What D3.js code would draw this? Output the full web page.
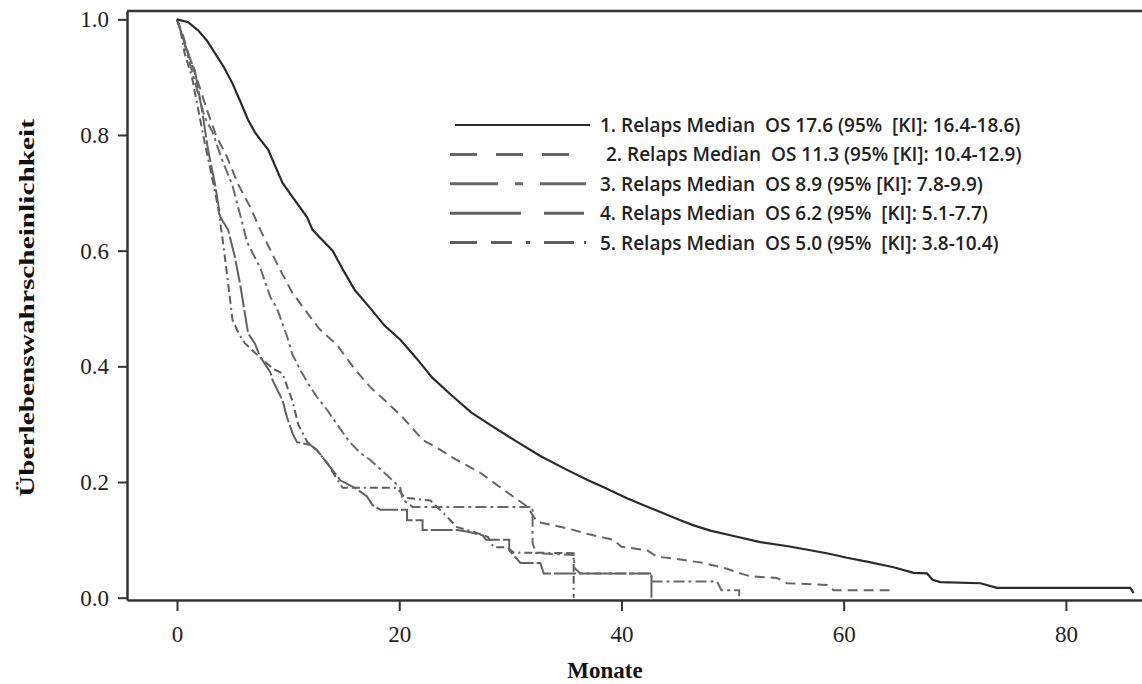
<!DOCTYPE html>
<html>
<head>
<meta charset="utf-8">
<script src="https://d3js.org/d3.v7.min.js"></script>
<style>
  body { margin: 0; background: #fff; }
  .axis path, .axis line { stroke: #333; }
  .axis path { stroke-width: 2.5px; }
  .axis line { stroke-width: 2px; }
  .axis text { font-family: "Liberation Serif", "Times New Roman", serif; font-size: 23px; fill: #222; }
  .legend text { font-family: "Open Sans", sans-serif; font-weight: 600; font-size: 19px; fill: #222; white-space: pre; }
  .title { font-family: "Liberation Serif", "Times New Roman", serif; font-weight: bold; fill: #111; }
  .curve { fill: none; stroke-linejoin: miter; }
</style>
</head>
<body>
<script>
  // Achsen
  var xTicks = [0, 20, 40, 60, 80];
  var yTicks = [0, 0.2, 0.4, 0.6, 0.8, 1.0];

  // Kaplan-Meier Kurven: [Monate, Überlebenswahrscheinlichkeit]
  var relaps1 = [[0,1],[1,0.995],[1.9,0.981],[2.7,0.963],[3.4,0.942],[4.2,0.918],[4.95,0.891],[5.7,0.858],
    [6.4,0.826],[7,0.805],[7.5,0.792],[8.2,0.775],[8.8,0.748],[9.5,0.717],[10.5,0.69],[11.7,0.658],[12.2,0.636],
    [13.1,0.618],[14,0.6],[15,0.565],[16,0.532],[17.2,0.505],[18.7,0.47],[20.1,0.446],[21.5,0.415],[23,0.38],
    [24.7,0.35],[26.5,0.32],[28.5,0.295],[30.4,0.272],[32.7,0.245],[35.1,0.221],[37,0.203],[38.5,0.19],
    [40.5,0.172],[42,0.16],[43.5,0.148],[45.3,0.134],[46.5,0.125],[48,0.116],[50,0.107],[52.5,0.096],
    [55,0.089],[57,0.082],[58.7,0.076],[60.3,0.069],[62.2,0.062],[64.4,0.053],[66.3,0.043],[67.5,0.042],
    [68,0.031],[68.7,0.027],[72.3,0.025],[73.8,0.017],[85.8,0.017],[86.1,0.008]];

  var relaps2 = [[0,1],[0.5,0.975],[1.2,0.93],[2,0.885],[2.7,0.843],[3.5,0.8],[4.5,0.762],[5.5,0.715],
    [6.6,0.675],[7.5,0.636],[8.3,0.605],[9.3,0.566],[10.3,0.53],[11.3,0.503],[12.8,0.465],[14.4,0.437],
    [16,0.395],[17.4,0.364],[18.5,0.345],[20.3,0.312],[22.1,0.273],[23.5,0.258],[25,0.24],[27.3,0.216],
    [29.5,0.185],[31.5,0.158],[32.4,0.131],[35.1,0.12],[37,0.11],[39.3,0.1],[40,0.088],[42.3,0.082],
    [43.2,0.071],[45.3,0.066],[47.4,0.06],[49.5,0.05],[50.7,0.042],[51.6,0.037],[54,0.034],[54.9,0.025],
    [58.5,0.022],[59.1,0.013],[64.2,0.013]];

  var relaps3 = [[0,1],[0.5,0.97],[1.5,0.9],[2.5,0.83],[3.2,0.805],[4,0.76],[5,0.712],[5.85,0.65],[6.3,0.615],
    [7.5,0.57],[8.4,0.52],[9,0.5],[9.9,0.452],[10.4,0.42],[11.2,0.39],[12,0.364],[12.6,0.347],[13.5,0.325],
    [14.4,0.3],[15.5,0.27],[16.5,0.25],[17.4,0.238],[19,0.21],[20.1,0.19],[20.3,0.17],[21.2,0.157],[32,0.157],
    [32,0.095],[32.3,0.077],[35.7,0.074],[35.8,0.051],[36.3,0.042],[42.7,0.042],[42.7,0.028],[48.6,0.028],
    [49,0.013],[50.6,0.013],[50.6,0]];

  var relaps4 = [[0,1],[0.5,0.97],[1,0.94],[1.6,0.912],[2.25,0.843],[2.8,0.774],[3.4,0.717],[3.9,0.658],
    [4.6,0.636],[5.2,0.59],[5.7,0.54],[6.4,0.457],[7,0.44],[7.5,0.416],[8.4,0.39],[8.6,0.376],[9.5,0.341],
    [9.9,0.312],[10.4,0.284],[10.8,0.269],[12,0.264],[12.6,0.255],[13.5,0.233],[14.7,0.203],[16,0.19],
    [17.1,0.175],[17.6,0.16],[18.3,0.152],[20.7,0.152],[20.7,0.134],[22.1,0.134],[22.1,0.117],[25.2,0.117],
    [26.2,0.114],[27.5,0.108],[27.8,0.1],[29.9,0.1],[29.9,0.082],[30.9,0.06],[32.7,0.06],[33,0.042],
    [42.7,0.042],[42.7,0]];

  var relaps5 = [[0,1],[0.3,0.982],[0.7,0.94],[1.35,0.9],[1.9,0.845],[2.5,0.786],[3.15,0.727],[3.7,0.675],
    [4.1,0.62],[4.5,0.56],[5,0.48],[5.6,0.455],[6.1,0.44],[7.5,0.415],[8.7,0.395],[9.5,0.388],[10,0.36],
    [10.4,0.34],[10.9,0.3],[11.7,0.27],[12.6,0.255],[13.5,0.233],[14.4,0.205],[14.9,0.19],[19.8,0.19],
    [20.5,0.173],[22.8,0.168],[23.4,0.157],[24.6,0.134],[25.2,0.122],[26.5,0.115],[28,0.105],[28.5,0.087],
    [29.7,0.087],[30.3,0.078],[35.7,0.077],[35.7,0]];

  var legendLabels = [
    "1. Relaps Median  OS 17.6 (95%  [KI]: 16.4-18.6)",
    "2. Relaps Median  OS 11.3 (95% [KI]: 10.4-12.9)",
    "3. Relaps Median  OS 8.9 (95% [KI]: 7.8-9.9)",
    "4. Relaps Median  OS 6.2 (95%  [KI]: 5.1-7.7)",
    "5. Relaps Median  OS 5.0 (95%  [KI]: 3.8-10.4)"
  ];

  var series = [relaps1, relaps2, relaps3, relaps4, relaps5];
  var colors = ["#2b2b2b", "#666", "#6a6a6a", "#626262", "#5e5e5e"];
  var dashes = [null, "10,6", "11,4,3,4", "22,3", "8,4,8,4,2,4"];
  var legendDashes = [null, "27,19", "48,17,8,17", "71,23,40,23", "27,14,21,14,4,14,30,10,4,10"];

  var W = 1142, H = 684;
  var svg = d3.select("body").append("svg")
    .attr("width", W)
    .attr("height", H);

  var x = d3.scaleLinear().domain([-4.5, 86.85]).range([127, 1142]);
  var y = d3.scaleLinear().domain([-0.004, 1.0144]).range([600, 11]);

  // Rahmen oben
  svg.append("line")
    .attr("x1", 127).attr("x2", W)
    .attr("y1", 11).attr("y2", 11)
    .attr("stroke", "#333").attr("stroke-width", 2.5);

  svg.append("g")
    .attr("class", "axis")
    .attr("transform", "translate(0,600)")
    .call(d3.axisBottom(x).tickValues(xTicks).tickSize(11).tickSizeOuter(0).tickPadding(15));

  svg.append("g")
    .attr("class", "axis")
    .attr("transform", "translate(127,0)")
    .call(d3.axisLeft(y).tickValues(yTicks).tickFormat(d3.format(".1f")).tickSize(9).tickSizeOuter(0).tickPadding(9));

  var line = d3.line()
    .x(function(d) { return x(d[0]); })
    .y(function(d) { return y(d[1]); });

  // Kurven (letzte zuerst, damit die durchgezogene oben liegt)
  for (var i = series.length - 1; i >= 0; i--) {
    svg.append("path")
      .datum(series[i])
      .attr("class", "curve")
      .attr("d", line)
      .attr("stroke", colors[i])
      .attr("stroke-width", i == 0 ? 2.2 : 2)
      .attr("stroke-dasharray", dashes[i]);
  }

  // Legende
  var legend = svg.append("g").attr("class", "legend");
  for (var i = 0; i < legendLabels.length; i++) {
    var ly = 125 + i * 29.4;
    legend.append("line")
      .attr("x1", i == 0 ? 455 : 450).attr("x2", i == 0 ? 590 : 586)
      .attr("y1", ly).attr("y2", ly)
      .attr("stroke", colors[i])
      .attr("stroke-width", i == 0 ? 2.2 : 3)
      .attr("stroke-dasharray", legendDashes[i]);
    legend.append("text")
      .attr("x", i == 1 ? 606 : 600)
      .attr("y", ly + 7)
      .text(legendLabels[i]);
  }

  // Achsentitel
  svg.append("text")
    .attr("class", "title")
    .attr("x", 605).attr("y", 678)
    .attr("text-anchor", "middle")
    .style("font-size", "23px")
    .text("Monate");

  svg.append("text")
    .attr("class", "title")
    .attr("transform", "translate(34,308) rotate(-90)")
    .attr("text-anchor", "middle")
    .attr("textLength", 378)
    .attr("lengthAdjust", "spacingAndGlyphs")
    .style("font-size", "22px")
    .text("Überlebenswahrscheinlichkeit");
</script>
</body>
</html>
